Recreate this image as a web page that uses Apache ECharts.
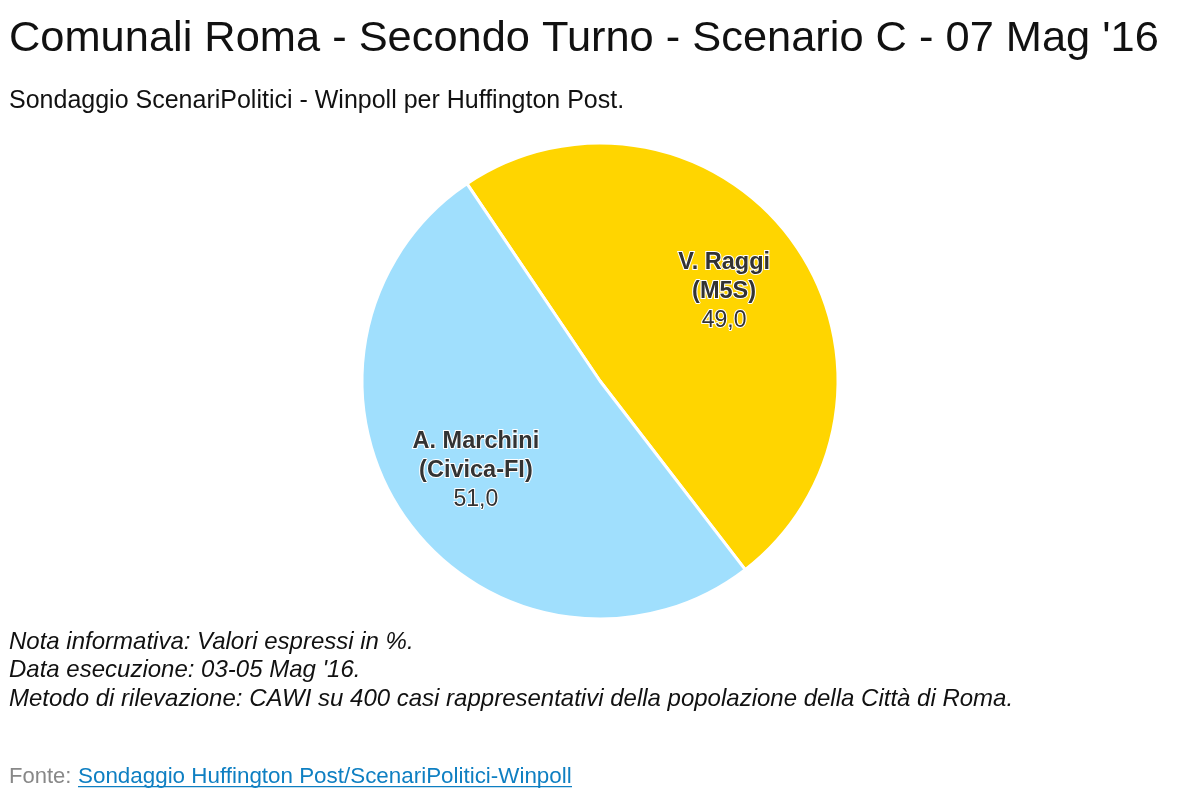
<!DOCTYPE html>
<html><head><meta charset="utf-8">
<script src="https://cdn.jsdelivr.net/npm/echarts@6/dist/echarts.min.js"></script>
<style>html,body{margin:0;padding:0;background:#fff}#c{width:1200px;height:800px}</style>
</head><body><div id="c"></div>
<script>
const titleText = "Comunali Roma - Secondo Turno - Scenario C - 07 Mag '16";
const subtitleText = "Sondaggio ScenariPolitici - Winpoll per Huffington Post.";
const categories = ["V. Raggi\n(M5S)", "A. Marchini\n(Civica-FI)"];
const values = [49.0, 51.0];
const colors = ["#FFD500", "#A0DFFD"];
const notes = [
  "Nota informativa: Valori espressi in %.",
  "Data esecuzione: 03-05 Mag '16.",
  "Metodo di rilevazione: CAWI su 400 casi rappresentativi della popolazione della Città di Roma."
];
const sourceLabel = "Fonte:";
const sourceText = "Sondaggio Huffington Post/ScenariPolitici-Winpoll";

const FONT = "'Liberation Sans', Arial, Helvetica, sans-serif";
const data = categories.map((c, i) => ({ name: c, value: values[i], itemStyle: { color: colors[i] } }));

const chart = echarts.init(document.getElementById('c'), null, { renderer: 'canvas' });
chart.setOption({
  backgroundColor: '#fff',
  animation: false,
  title: [
    { text: titleText, left: 9, top: 18, padding: 0, textStyle: { fontFamily: FONT, fontSize: 43.4, fontWeight: 'normal', color: '#111' } },
    { text: subtitleText, left: 9, top: 89, padding: 0, textStyle: { fontFamily: FONT, fontSize: 25, fontWeight: 'normal', color: '#111' } }
  ],
  series: [
    {
      type: 'pie', center: [600, 381], radius: [0, 238], startAngle: 124, clockwise: true,
      silent: true, label: { show: false }, labelLine: { show: false },
      itemStyle: { borderColor: '#fff', borderWidth: 3 },
      data: data
    },
    {
      type: 'pie', center: [600, 381], radius: [62, 238], startAngle: 124, clockwise: true,
      silent: true, labelLine: { show: false },
      itemStyle: { color: 'rgba(0,0,0,0)', borderWidth: 0 },
      label: {
        show: true, position: 'inside',
        formatter: p => '{b|' + p.name.split('\n').join('}\n{b|') + '}\n{v|' + p.value.toFixed(1).replace('.', ',') + '}',
        rich: {
          b: { fontFamily: FONT, fontSize: 23.5, fontWeight: 'bold', color: '#333', lineHeight: 29, textBorderColor: '#fff', textBorderWidth: 2 },
          v: { fontFamily: FONT, fontSize: 23, fontWeight: 'normal', color: '#333', lineHeight: 29, textBorderColor: '#fff', textBorderWidth: 2 }
        }
      },
      data: categories.map((c, i) => ({ name: c, value: values[i] }))
    }
  ],
  graphic: [
    ...notes.map((t, i) => ({
      type: 'text', left: 9, top: 630 + i * 28.7,
      style: { text: t, fontFamily: FONT, fontSize: 24, fontStyle: 'italic', fill: '#111' }
    })),
    { type: 'text', left: 9, top: 766, style: { text: sourceLabel, fontFamily: FONT, fontSize: 22, fill: '#888' } },
    { type: 'text', left: 78, top: 766, style: { text: sourceText, fontFamily: FONT, fontSize: 22.4, fill: '#0E7FC2' } },
    { type: 'rect', left: 78, top: 786, shape: { width: 494, height: 1.3 }, style: { fill: '#0E7FC2' } }
  ]
});
</script></body></html>
